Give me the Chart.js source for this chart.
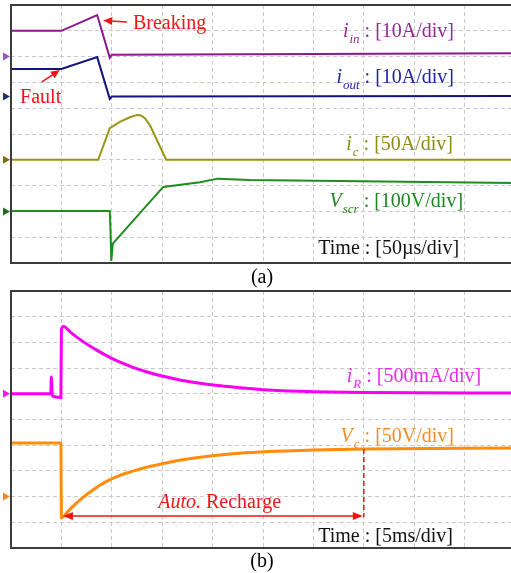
<!DOCTYPE html>
<html><head><meta charset="utf-8">
<script src="https://cdn.jsdelivr.net/npm/chart.js@4/dist/chart.umd.min.js"></script>
<style>
html,body{margin:0;padding:0;background:#fff;overflow:hidden;width:511px;height:573px;position:relative;}
canvas{position:absolute;left:0;}
#ca{top:0px}
#cb{top:286px}
.cap{position:absolute;font:20px "Liberation Serif","Times New Roman",serif;color:#000;transform:translate(-50%,-50%);line-height:20px;white-space:nowrap;}
</style></head><body>
<canvas id="ca" width="520" height="268"></canvas>
<canvas id="cb" width="520" height="268"></canvas>
<div class="cap" style="left:262px;top:276px">(a)</div>
<div class="cap" style="left:262px;top:560px">(b)</div>
<script>
// ---------- DATA (time in divisions, level in divisions from bottom) ----------
// Panel (a): 50 µs/div
const tIn   = [0, 1.0, 1.71, 1.96, 2.0, 10];
const iIn   = [9.0, 9.0, 9.61, 7.95, 8.07, 8.13];
const tOut  = [0, 1.0, 1.71, 1.96, 2.0, 10];
const iOut  = [7.52, 7.52, 7.98, 6.36, 6.45, 6.47];
const tIc   = [0, 1.73, 1.96, 2.16, 2.36, 2.5, 2.58, 2.66, 2.76, 3.08, 10];
const iC    = [4.0, 4.0, 5.23, 5.47, 5.65, 5.74, 5.72, 5.6, 5.33, 4.0, 4.0];
const tScr  = [0, 1.96, 1.975, 1.99, 2.02, 3.02, 3.75, 4.1, 4.74, 10];
const vScr  = [2.02, 2.02, 1.2, 0.08, 0.75, 2.95, 3.13, 3.27, 3.22, 3.1];
const markersA = [8.0, 6.45, 4.0, 2.0];
// Panel (b): 5 ms/div
const tR    = [0, 0.79, 0.8, 0.82, 0.98, 0.99, 1.0, 1.04, 1.2, 1.43, 1.7, 1.96, 2.2, 2.42, 2.7, 3.02, 3.4, 3.75, 4.1, 4.4, 4.94, 5.73, 7.0, 10];
const iR    = [6.0, 6.0, 6.65, 5.92, 5.86, 5.86, 8.5, 8.62, 8.36, 8.03, 7.7, 7.42, 7.2, 7.03, 6.85, 6.68, 6.52, 6.41, 6.32, 6.26, 6.17, 6.1, 6.05, 6.03];
const tVc   = [0, 0.99, 1.0, 1.03, 1.12, 1.21, 1.37, 1.55, 1.77, 2.05, 2.42, 2.75, 3.1, 3.4, 3.75, 4.4, 4.94, 6.0, 7.0, 10];
const vC    = [4.09, 4.09, 1.17, 1.2, 1.4, 1.58, 1.87, 2.15, 2.45, 2.74, 2.99, 3.17, 3.32, 3.43, 3.53, 3.67, 3.74, 3.81, 3.85, 3.89];
const markersB = [6.0, 2.0];
// Annotation anchor values (divisions)
const rechargeStart = 1.03, rechargeEnd = 6.98, rechargeLevel = 1.245, rechargeTop = 3.85;

// ---------- STYLE ----------
const SERIF = '"Liberation Serif","Times New Roman",serif';
const f = (sz, it) => (it ? 'italic ' : '') + sz + 'px ' + SERIF;
const RED = 'rgb(240,20,20)';

function pts(t, v){ return t.map((x,i)=>({x:x, y:v[i]})); }
function ds(t, v, color, w, smooth){
  return {data: pts(t,v), borderColor: color, borderWidth: w, pointRadius: 0,
          tension: 0, cubicInterpolationMode: smooth ? 'monotone' : 'default', fill:false};
}
function label(ctx, x, y, v, sub, rest, color){
  ctx.save(); ctx.fillStyle = color; ctx.textBaseline = 'alphabetic'; ctx.textAlign = 'left';
  ctx.font = f(20,false); const wr = ctx.measureText(rest).width;
  ctx.font = f(13,true);  const ws = sub ? ctx.measureText(sub).width + 1 : 0;
  ctx.font = f(20,true);  const wv = v ? ctx.measureText(v).width : 0;
  const x0 = x - wr - ws - wv;
  if (v) ctx.fillText(v, x0, y);
  if (sub){ ctx.font = f(13,true); ctx.fillText(sub, x0 + wv + 1, y + 6); }
  ctx.font = f(20,false); ctx.fillText(rest, x0 + wv + ws, y);
  ctx.restore();
}
function arrow(ctx, x1, y1, x2, y2, color, head){
  ctx.save(); ctx.strokeStyle = color; ctx.fillStyle = color; ctx.lineWidth = 1.5;
  const a = Math.atan2(y2 - y1, x2 - x1);
  const L = head || 9, W = 4;
  ctx.beginPath(); ctx.moveTo(x1, y1); ctx.lineTo(x2 - Math.cos(a)*L*0.8, y2 - Math.sin(a)*L*0.8); ctx.stroke();
  ctx.beginPath(); ctx.moveTo(x2, y2);
  ctx.lineTo(x2 - Math.cos(a)*L + Math.sin(a)*W, y2 - Math.sin(a)*L - Math.cos(a)*W);
  ctx.lineTo(x2 - Math.cos(a)*L - Math.sin(a)*W, y2 - Math.sin(a)*L + Math.cos(a)*W);
  ctx.closePath(); ctx.fill();
  ctx.restore();
}
function markers(chart, levels, colors){
  const ctx = chart.ctx, ys = chart.scales.y, L = chart.chartArea.left;
  levels.forEach((lv,i)=>{
    const y = ys.getPixelForValue(lv);
    ctx.save(); ctx.fillStyle = colors[i];
    ctx.beginPath(); ctx.moveTo(L - 1, y); ctx.lineTo(L - 8, y - 4); ctx.lineTo(L - 8, y + 4); ctx.closePath(); ctx.fill();
    ctx.restore();
  });
}
function frame(chart){
  const {ctx, chartArea:a} = chart;
  ctx.save(); ctx.strokeStyle = '#3c3c3c'; ctx.lineWidth = 2;
  ctx.strokeRect(a.left, a.top, a.right - a.left, a.bottom - a.top);
  ctx.restore();
}

function scalesCfg(){
  const ax = {type:'linear', min:0, max:10, display:true,
    ticks:{display:false, stepSize:1},
    grid:{color:'#c9c9c9', lineWidth:1, drawTicks:false},
    border:{display:false, dash:[4,3]}};
  return {x: JSON.parse(JSON.stringify(ax)), y: JSON.parse(JSON.stringify(ax))};
}
const common = {responsive:false, animation:false, events:[],
  plugins:{legend:{display:false}, tooltip:{enabled:false}}};

// ---------- PANEL (a) ----------
new Chart(document.getElementById('ca'), {
  type:'line',
  data:{datasets:[
    ds(tIn, iIn, 'rgb(140,25,140)', 2),
    ds(tOut, iOut, 'rgb(20,20,125)', 2),
    ds(tIc, iC, 'rgb(150,150,20)', 2),
    ds(tScr, vScr, 'rgb(30,140,30)', 2)
  ]},
  options:Object.assign({}, common, {
    layout:{padding:{left:11, top:5, right:5, bottom:5}},
    scales: scalesCfg()
  }),
  plugins:[{id:'annA', afterDatasetsDraw(chart){
    const ctx = chart.ctx, X = v => chart.scales.x.getPixelForValue(v), Y = v => chart.scales.y.getPixelForValue(v);
    frame(chart);
    markers(chart, markersA, ['rgb(150,90,200)','rgb(25,50,110)','rgb(140,105,20)','rgb(30,110,40)']);
    label(ctx, X(8.79), Y(8.76), 'i', 'in', ' : [10A/div]', 'rgb(150,40,150)');
    label(ctx, X(8.79), Y(6.98), 'i', 'out', ' : [10A/div]', 'rgb(35,35,170)');
    label(ctx, X(8.77), Y(4.38), 'i', 'c', ' : [50A/div]', 'rgb(140,140,20)');
    label(ctx, X(8.97), Y(2.17), 'V', 'scr', ' : [100V/div]', 'rgb(30,135,30)');
    label(ctx, X(8.89), Y(0.35), '', '', 'Time : [50\u00b5s/div]', '#111');
    ctx.save(); ctx.fillStyle = RED; ctx.font = f(20,false); ctx.textAlign='left';
    ctx.fillText('Breaking', X(2.42), Y(9.07));
    ctx.fillText('Fault', X(0.18), Y(6.2));
    ctx.restore();
    arrow(ctx, X(2.30), Y(9.34), X(1.83), Y(9.40), RED, 9);
    arrow(ctx, X(0.615), Y(7.02), X(0.97), Y(7.48), RED, 9);
  }}]
});

// ---------- PANEL (b) ----------
new Chart(document.getElementById('cb'), {
  type:'line',
  data:{datasets:[
    ds(tR, iR, 'rgb(245,0,245)', 3, true),
    ds(tVc, vC, 'rgb(255,140,10)', 3, true)
  ]},
  options:Object.assign({}, common, {
    layout:{padding:{left:11, top:5, right:5, bottom:6}},
    scales: scalesCfg()
  }),
  plugins:[{id:'annB', afterDatasetsDraw(chart){
    const ctx = chart.ctx, X = v => chart.scales.x.getPixelForValue(v), Y = v => chart.scales.y.getPixelForValue(v);
    frame(chart);
    markers(chart, markersB, ['rgb(240,20,240)','rgb(240,140,30)']);
    label(ctx, X(9.33), Y(6.46), 'i', 'R', ' : [500mA/div]', 'rgb(235,40,235)');
    label(ctx, X(8.79), Y(4.12), 'V', 'c', ' : [50V/div]', 'rgb(245,140,40)');
    label(ctx, X(8.77), Y(0.23), '', '', 'Time : [5ms/div]', '#111');
    // dashed end marker
    ctx.save(); ctx.strokeStyle = RED; ctx.lineWidth = 1.5; ctx.setLineDash([5,3]);
    ctx.beginPath(); ctx.moveTo(X(rechargeEnd + 0.02), Y(rechargeTop)); ctx.lineTo(X(rechargeEnd + 0.02), Y(rechargeLevel - 0.05)); ctx.stroke();
    ctx.restore();
    // double arrow
    const mid = (rechargeStart + rechargeEnd) / 2;
    arrow(ctx, X(mid), Y(rechargeLevel), X(rechargeStart), Y(rechargeLevel), RED, 10);
    arrow(ctx, X(mid), Y(rechargeLevel), X(rechargeEnd), Y(rechargeLevel), RED, 10);
    // text
    ctx.save(); ctx.fillStyle = RED; ctx.textAlign = 'left';
    ctx.font = f(20,true); const x0 = X(2.92); ctx.fillText('Auto.', x0, Y(1.56));
    const w = ctx.measureText('Auto.').width;
    ctx.font = f(20,false); ctx.fillText(' Recharge', x0 + w, Y(1.56));
    ctx.restore();
  }}]
});
</script>
</body></html>
